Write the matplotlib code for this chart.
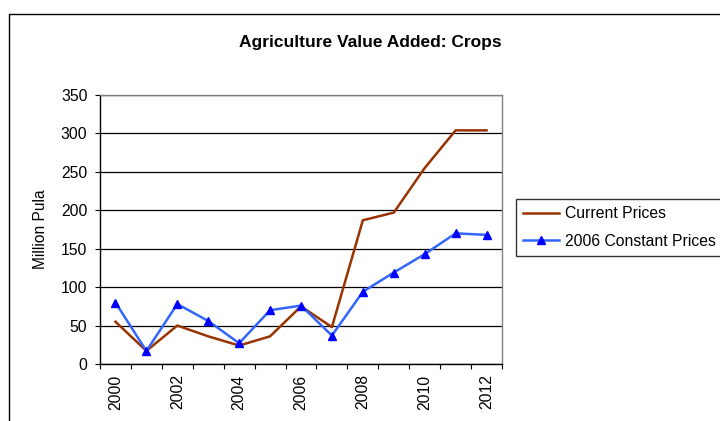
import numpy as np
import matplotlib.pyplot as plt
from matplotlib.patches import Rectangle

plt.rcParams['font.family'] = ['Liberation Sans', 'DejaVu Sans']

years = list(range(2000, 2013))
current_prices = [55, 17, 50, 36, 24, 36, 75, 48, 187, 197, 255, 304, 304]
constant_prices = [80, 17, 78, 56, 27, 70, 76, 37, 94, 119, 143, 170, 168]
y_ticks = [0, 50, 100, 150, 200, 250, 300, 350]

fig = plt.figure(figsize=(7.2, 4.21), dpi=100)
fig.patch.set_facecolor('white')

# outer chart frame, runs off the right and bottom edges
fig.patches.append(Rectangle((9 / 720, -0.5), 2.0, 1.5 - 14 / 421,
                             transform=fig.transFigure, fill=False,
                             edgecolor='black', linewidth=1.0))

ax = fig.add_axes([100 / 720, 1 - 364 / 421, 402 / 720, 269 / 421])
x = np.arange(len(years))

ax.plot(x, current_prices, color='#993300', linewidth=1.8, label='Current Prices', zorder=3)
ax.plot(x, constant_prices, color='#3366FF', linewidth=1.8, marker='^',
        markersize=5.5, markerfacecolor='#0000FF', markeredgecolor='#0000FF',
        label='2006 Constant Prices', zorder=4)

ax.set_xlim(-0.5, len(years) - 0.5)
ax.set_ylim(0, 350)
ax.set_yticks(y_ticks)
ax.set_yticklabels([str(v) for v in y_ticks], fontsize=11.3)
ax.yaxis.grid(True, color='black', linewidth=0.9)
ax.set_axisbelow(True)

# category ticks sit between the years, labels on every other year
ax.set_xticks(np.arange(-0.5, len(years), 1.0))
ax.set_xticklabels([])
ax.set_xticks(x[::2], minor=True)
ax.set_xticklabels([str(y) for y in years[::2]], minor=True, rotation=90, fontsize=11.3)
ax.tick_params(axis='x', which='major', direction='out', length=3.5, color='black')
ax.tick_params(axis='x', which='minor', length=0, pad=7.5)
ax.tick_params(axis='y', direction='out', length=3.6, pad=5.5)

for side in ['left', 'bottom']:
    ax.spines[side].set_color('black')
    ax.spines[side].set_linewidth(1.0)
for side in ['top', 'right']:
    ax.spines[side].set_color('#808080')
    ax.spines[side].set_linewidth(1.0)

ax.set_ylabel('Million Pula', fontsize=11.2, labelpad=9)
fig.text(370 / 720, 1 - 42 / 421, 'Agriculture Value Added: Crops',
         fontsize=12.5, fontweight='bold', ha='center', va='center')

leg = ax.legend(loc='upper left', bbox_to_anchor=(516 / 720, 1 - 199 / 421),
                bbox_transform=fig.transFigure, fontsize=11.3, frameon=True,
                fancybox=False, edgecolor='black', handlelength=2.3,
                handletextpad=0.38, borderpad=0.45, labelspacing=0.8,
                borderaxespad=0)
leg.get_frame().set_linewidth(1.0)

fig.savefig('out.png', dpi=100, facecolor='white')
